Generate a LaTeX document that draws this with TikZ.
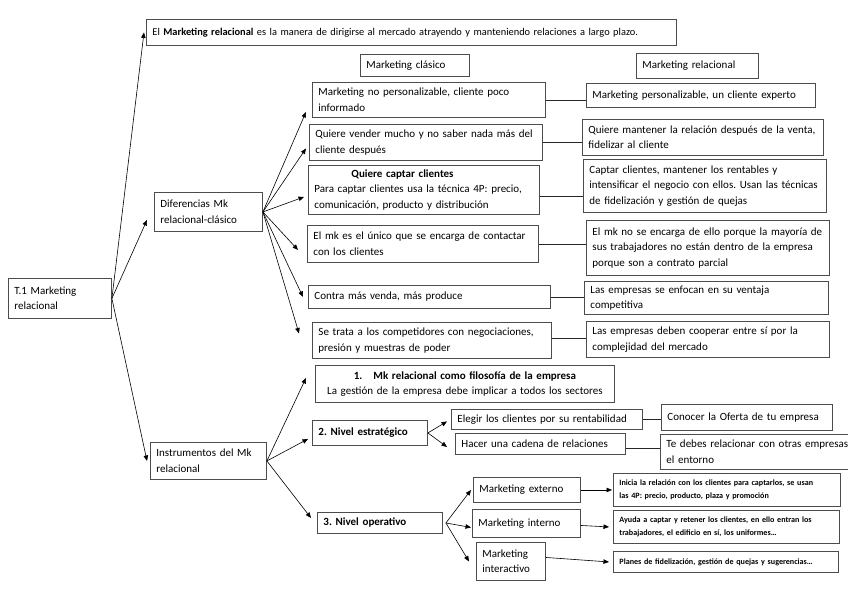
\documentclass[tikz,border=0pt]{standalone}
\usepackage{fontspec}
\setmainfont{Carlito}
\usetikzlibrary{arrows.meta}
\frenchspacing
\begin{document}
\begin{tikzpicture}[x=1pt,y=-1pt,
  bx/.style={draw=black!70, line width=0.9pt, rectangle, anchor=north west, align=left,
    inner xsep=6pt, inner ysep=0pt, font=\fontsize{11}{15.5}\selectfont\frenchspacing, text=black},
  sm/.style={bx, font=\fontsize{8.1}{13}\selectfont\bfseries\frenchspacing},
  arr/.style={-{Triangle[length=5.5pt,width=4.5pt]}, line width=0.6pt, black},
  ln/.style={line width=0.6pt, black!85}]
\useasboundingbox (0,0) rectangle (848,599);
% main
\node[bx,font=\fontsize{10.4}{15}\selectfont\frenchspacing,text width=518pt,minimum height=26pt] (def) at (146,19) {El \textbf{Marketing relacional} es la manera de dirigirse al mercado atrayendo y manteniendo relaciones a largo plazo.};
\node[bx,text width=97pt,minimum height=22pt] (mc) at (360,54) {Marketing clásico};
\node[bx,text width=110pt,minimum height=25pt] (mr) at (636,53) {Marketing relacional};
\node[bx,text width=91pt,minimum height=40pt] (t1) at (8,278) {T.1 Marketing\\relacional};
\node[bx,text width=96pt,minimum height=39pt] (dif) at (154,192) {Diferencias Mk\\relacional-clásico};
\node[bx,text width=104pt,minimum height=37pt] (ins) at (150,442) {Instrumentos del Mk\\relacional};
% rows
\node[bx,text width=221pt,minimum height=35pt] (l1) at (312,82) {Marketing no personalizable, cliente poco\\informado};
\node[bx,text width=217pt,minimum height=24pt] (r1) at (586,83) {Marketing personalizable, un cliente experto};
\node[bx,text width=221pt,minimum height=36pt] (l2) at (309,124) {Quiere vender mucho y no saber nada más del\\cliente después};
\node[bx,text width=229pt,minimum height=36pt] (r2) at (582,119) {Quiere mantener la relación después de la venta,\\fidelizar al cliente};
\node[bx,text width=219pt,minimum height=49pt] (l3) at (308,165) {\hspace*{37pt}\textbf{Quiere captar clientes}\\Para captar clientes usa la técnica 4P: precio,\\comunicación, producto y distribución};
\node[bx,text width=231pt,minimum height=53pt] (r3) at (583,159) {Captar clientes, mantener los rentables y\\intensificar el negocio con ellos. Usan las técnicas\\de fidelización y gestión de quejas};
\node[bx,text width=219pt,minimum height=37pt] (l4) at (307,225) {El mk es el único que se encarga de contactar\\con los clientes};
\node[bx,text width=231pt,minimum height=55pt] (r4) at (586,220) {El mk no se encarga de ello porque la mayoría de\\sus trabajadores no están dentro de la empresa\\porque son a contrato parcial};
\node[bx,text width=230pt,minimum height=23pt] (l5) at (308,285) {Contra más venda, más produce};
\node[bx,text width=232pt,minimum height=33pt] (r5) at (584,281) {Las empresas se enfocan en su ventaja\\competitiva};
\node[bx,text width=227pt,minimum height=36pt] (l6) at (312,322) {Se trata a los competidores con negociaciones,\\presión y muestras de poder};
\node[bx,text width=231pt,minimum height=36pt] (r6) at (586,321) {Las empresas deben cooperar entre sí por la\\complejidad del mercado};
% instruments
\node[bx,align=center,text width=287pt,minimum height=37pt] (n1) at (315,365) {\textbf{1.\quad Mk relacional como filosofía de la empresa}\\La gestión de la empresa debe implicar a todos los sectores};
\node[bx,text width=103pt,minimum height=25pt] (n2) at (312,420) {\textbf{2. Nivel estratégico}};
\node[bx,text width=113pt,minimum height=21pt] (n3) at (317,512) {\textbf{3. Nivel operativo}};
\node[bx,text width=179pt,minimum height=20pt] (s1) at (451,409) {Elegir los clientes por su rentabilidad};
\node[bx,text width=158pt,minimum height=21pt] (s2) at (455,433) {Hacer una cadena de relaciones};
\node[bx,text width=159pt,minimum height=26pt] (sr1) at (661,404) {Conocer la Oferta de tu empresa};
\node[bx,text width=182pt,minimum height=35pt] (sr2) at (660,434) {Te debes relacionar con otras empresas\\el entorno};
\node[bx,text width=95pt,minimum height=25pt] (o1) at (473,477) {Marketing externo};
\node[bx,text width=96pt,minimum height=28pt] (o2) at (472,509) {Marketing interno};
\node[bx,text width=57pt,minimum height=38pt] (o3) at (476,542) {Marketing\\interactivo};
\node[sm,text width=215pt,minimum height=33pt] (or1) at (613,473) {Inicia la relación con los clientes para captarlos, se usan\\las 4P: precio, producto, plaza y promoción};
\node[sm,text width=214pt,minimum height=33pt] (or2) at (613,510) {Ayuda a captar y retener los clientes, en ello entran los\\trabajadores, el edificio en sí, los uniformes…};
\node[sm,text width=213pt,minimum height=21pt] (or3) at (613,551) {Planes de fidelización, gestión de quejas y sugerencias…};
% connectors from T.1
\draw[arr] (t1.east) -- ([xshift=-2pt]def.west);
\draw[arr] (t1.east) -- ([shift={(-7pt,-8pt)}]dif.west);
\draw[arr] (t1.east) -- ([xshift=-3pt]ins.west);
% from Diferencias
\draw[arr] (dif.east) -- ([shift={(-6pt,-12pt)}]l1.west);
\draw[arr] (dif.east) -- ([shift={(-3pt,-6pt)}]l2.west);
\draw[arr] (dif.east) -- ([shift={(-4pt,-7pt)}]l3.west);
\draw[arr] (dif.east) -- ([shift={(-9pt,-6pt)}]l4.west);
\draw[arr] (dif.east) -- ([shift={(-5pt,0pt)}]l5.west);
\draw[arr] (dif.east) -- ([shift={(-13pt,7pt)}]l6.west);
% row links
\draw[ln] (l1.east) -- (l1.east -| r1.west);
\draw[ln] (l2.east) -- (l2.east -| r2.west);
\draw[ln] ([yshift=-6pt]l3.east) -- ([yshift=-6pt]l3.east -| r3.west);
\draw[ln] (l4.east) -- (l4.east -| r4.west);
\draw[ln] (l5.east) -- (l5.east -| r5.west);
\draw[ln] ([yshift=2pt]l6.east) -- ([yshift=2pt]l6.east -| r6.west);
% from Instrumentos
\draw[arr] (ins.east) -- ([shift={(-9pt,6pt)}]n1.west);
\draw[arr] (ins.east) -- ([shift={(-4pt,-6pt)}]n2.west);
\draw[arr] (ins.east) -- ([shift={(-6pt,5pt)}]n3.west);
% strategic
\draw[arr] (n2.east) -- ([shift={(-4pt,-2pt)}]s1.west);
\draw[arr] (n2.east) -- ([shift={(-8pt,-3pt)}]s2.west);
\draw[ln] (s1.east) -- (s1.east -| sr1.west);
\draw[ln] ([yshift=-4pt]s2.east) -- ([yshift=-4pt]s2.east -| sr2.west);
% operative
\draw[arr] ([xshift=3pt]n3.east) -- ([xshift=-2pt]o1.west);
\draw[arr] ([xshift=3pt]n3.east) -- ([shift={(-1pt,-4pt)}]o2.west);
\draw[arr] ([xshift=3pt]n3.east) -- ([xshift=-7pt]o3.west);
\draw[arr] (o1.east) -- ([xshift=-1pt]o1.east -| or1.west);
\draw[arr] ([yshift=-2pt]o2.east) -- ([xshift=-4pt]or2.west);
\draw[arr] ([yshift=4pt]o3.east) -- ([xshift=-4pt]or3.west);
\end{tikzpicture}
\end{document}
